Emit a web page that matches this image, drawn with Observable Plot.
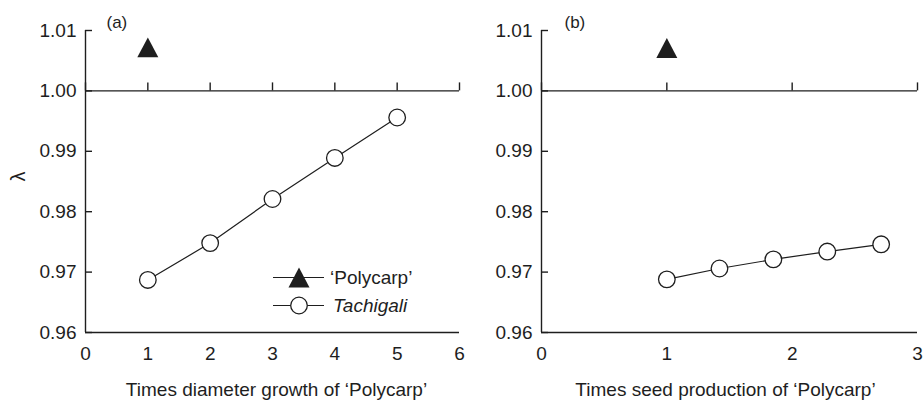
<!DOCTYPE html>
<html><head><meta charset="utf-8">
<script src="https://cdn.jsdelivr.net/npm/d3@7"></script>
<script src="https://cdn.jsdelivr.net/npm/@observablehq/plot@0.6"></script>
<style>
body{margin:0;background:#fff;}
#chart{position:relative;width:923px;height:402px;display:flex;font-family:"Liberation Sans",Arial,sans-serif;background:#fff;}
#chart svg{overflow:visible;}
#legend{position:absolute;left:0;top:0;pointer-events:none;}
</style></head><body><div id="chart"></div>
<script>
// ---- data ----
const panelLabels = ["(a)", "(b)"];
const xTitles = ["Times diameter growth of \u2018Polycarp\u2019", "Times seed production of \u2018Polycarp\u2019"];
const yLabel = "\u03bb";
const seriesNames = ["\u2018Polycarp\u2019", "Tachigali"];
const yTicks = [0.96, 0.97, 0.98, 0.99, 1.00, 1.01];
const yDomain = [0.96, 1.01];
const refLambda = 1.00;

const growthXTicks = [0, 1, 2, 3, 4, 5, 6];
const growthX = [1, 2, 3, 4, 5];
const growthLambda = [0.9687, 0.9748, 0.9821, 0.9889, 0.9956];
const growthPolycarpX = [1];
const growthPolycarpLambda = [1.0072];

const seedXTicks = [0, 1, 2, 3];
const seedX = [1, 1.42, 1.85, 2.28, 2.71];
const seedLambda = [0.9688, 0.9706, 0.9721, 0.9734, 0.9746];
const seedPolycarpX = [1];
const seedPolycarpLambda = [1.0071];

// ---- drawing ----
const ink = "#1e1e1e";
const font = '"Liberation Sans", Arial, sans-serif';
const triangleBox = {draw(ctx, size) {
  const a = Math.sqrt(size);
  ctx.moveTo(0, -0.7 * a);
  ctx.lineTo(0.74 * a, 0.7 * a);
  ctx.lineTo(-0.74 * a, 0.7 * a);
  ctx.closePath();
}};

function panel(o) {
  const pts = o.xs.map((x, i) => ({x, y: o.ys[i]}));
  const poly = o.px.map((x, i) => ({x, y: o.py[i]}));
  const xDomain = [o.xTicks[0], o.xTicks[o.xTicks.length - 1]];
  return Plot.plot({
    width: o.width, height: 402,
    marginLeft: o.marginLeft, marginRight: o.marginRight, marginTop: 30, marginBottom: 70,
    x: {domain: xDomain},
    y: {domain: yDomain},
    style: {fontFamily: font, fontSize: "19px", color: ink, overflow: "visible", background: "none"},
    marks: [
      Plot.ruleX([xDomain[0]], {y1: yDomain[0], y2: yDomain[1], stroke: ink, strokeWidth: 1.4}),
      Plot.ruleY([yDomain[0], refLambda], {x1: xDomain[0], x2: xDomain[1], stroke: ink, strokeWidth: 1.4}),
      Plot.ruleY(yTicks, {x1: xDomain[0], x2: xDomain[0], insetRight: -7, stroke: ink, strokeWidth: 1.4}),
      Plot.ruleX(o.xTicks, {y1: refLambda, y2: refLambda, insetTop: -8, stroke: ink, strokeWidth: 1.4}),
      Plot.axisY({ticks: yTicks, tickSize: 0, tickPadding: 9, tickFormat: ".2f", label: null, fontSize: 19}),
      Plot.axisX({ticks: o.xTicks, tickSize: 0, tickPadding: 14, tickFormat: "d", label: null, fontSize: 19}),
      Plot.line(pts, {x: "x", y: "y", stroke: ink, strokeWidth: 1.2}),
      Plot.dot(pts, {x: "x", y: "y", r: 8.3, fill: "white", stroke: ink, strokeWidth: 1.3}),
      Plot.dot(poly, {x: "x", y: "y", r: 8, symbol: triangleBox, fill: ink, stroke: "none"}),
      Plot.text([o.label], {frameAnchor: "top-left", dx: o.labelDx, dy: -8, textAnchor: "start", lineAnchor: "middle", fontSize: 17, fill: ink}),
      Plot.text([o.title], {frameAnchor: "bottom", dx: o.titleDx, dy: 57, lineAnchor: "middle", fontSize: 19, fill: ink}),
      o.showY ? Plot.text([yLabel], {frameAnchor: "left", dx: -67, rotate: -90, fontSize: 20, fill: ink}) : null
    ]
  });
}

const chart = document.getElementById("chart");
chart.append(panel({
  xs: growthX, ys: growthLambda, px: growthPolycarpX, py: growthPolycarpLambda,
  xTicks: growthXTicks, title: xTitles[0], label: panelLabels[0],
  width: 461, marginLeft: 85, marginRight: 2, labelDx: 21, titleDx: 4, showY: true
}));
chart.append(panel({
  xs: seedX, ys: seedLambda, px: seedPolycarpX, py: seedPolycarpLambda,
  xTicks: seedXTicks, title: xTitles[1], label: panelLabels[1],
  width: 462, marginLeft: 80, marginRight: 6, labelDx: 23, titleDx: -4, showY: false
}));

// legend (inside panel a)
const leg = d3.select(chart).append("svg").attr("id", "legend").attr("width", 923).attr("height", 402);
const rows = [{name: seriesNames[0], y: 277.5, tri: true, italic: false},
              {name: seriesNames[1], y: 305.5, tri: false, italic: true}];
rows.forEach(r => {
  const g = leg.append("g").attr("transform", `translate(0,${r.y})`);
  g.append("line").attr("x1", 273).attr("x2", 324).attr("stroke", ink).attr("stroke-width", 1.2);
  if (r.tri) {
    g.append("path").attr("transform", "translate(299,0)").attr("d", d3.symbol(triangleBox, 64 * Math.PI)()).attr("fill", ink);
  } else {
    g.append("circle").attr("cx", 299).attr("r", 8.3).attr("fill", "white").attr("stroke", ink).attr("stroke-width", 1.3);
  }
  g.append("text").attr("x", r.italic ? 333 : 330).attr("dy", "0.35em").attr("font-size", 19)
    .attr("font-family", font).attr("font-style", r.italic ? "italic" : "normal").attr("fill", ink).text(r.name);
});
</script></body></html>
